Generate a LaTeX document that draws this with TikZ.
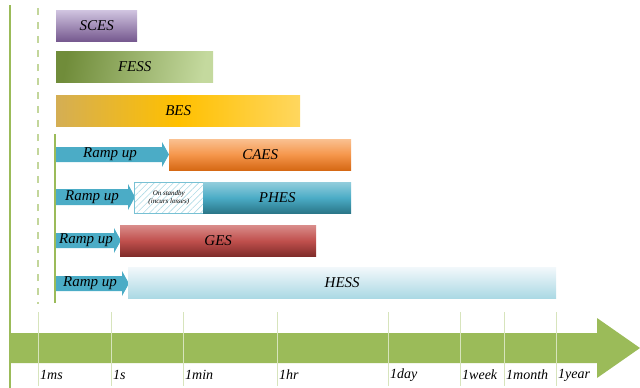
\documentclass[tikz,border=0pt]{standalone}
\usepackage{fontspec}
\setmainfont{Liberation Serif}
\usetikzlibrary{patterns.meta}
\definecolor{axisgreen}{HTML}{9BBB59}
\definecolor{paleline}{HTML}{C3D69B}
\definecolor{tickline}{HTML}{D7E4BC}
\definecolor{rampblue}{HTML}{4BACC6}
\definecolor{scestop}{RGB}{208,196,224}
\definecolor{scesbot}{RGB}{118,89,143}
\definecolor{fessleft}{RGB}{112,140,58}
\definecolor{fessright}{RGB}{196,217,158}
\definecolor{besleft}{RGB}{212,174,84}
\definecolor{besmid}{RGB}{255,192,0}
\definecolor{besright}{RGB}{255,215,95}
\definecolor{caestop}{RGB}{250,192,144}
\definecolor{caesmid}{RGB}{245,150,75}
\definecolor{caesbot}{RGB}{214,104,20}
\definecolor{phestop}{RGB}{146,205,220}
\definecolor{phesbot}{RGB}{42,118,136}
\definecolor{gestop}{RGB}{217,140,138}
\definecolor{gesmid}{RGB}{192,80,77}
\definecolor{gesbot}{RGB}{128,44,42}
\definecolor{hesstop}{RGB}{242,248,251}
\definecolor{hessbot}{RGB}{171,217,228}
\begin{document}
\begin{tikzpicture}[x=1pt,y=-1pt,
  bar/.style={anchor=north west, inner sep=0pt, minimum height=31pt,
    font=\fontsize{15}{15}\selectfont\itshape, text=black},
  ramp/.style={fill=rampblue},
  ramplabel/.style={inner sep=0pt, font=\fontsize{15}{15}\selectfont\itshape},
  ticklabel/.style={anchor=west, inner sep=0pt, font=\fontsize{14}{14}\selectfont\itshape},
  tick/.style={draw=tickline, line width=0.8pt}]
\useasboundingbox (0,0) rectangle (640,388);

% guide lines
\draw[axisgreen, line width=1.5pt] (10,5) -- (10,388);
\draw[paleline, line width=1.5pt, dash pattern=on 7pt off 7pt] (38,8) -- (38,304);
\draw[axisgreen, line width=1.5pt] (55,134) -- (55,303);

% fast-response storage
\node[bar, minimum width=81pt, top color=scestop, bottom color=scesbot]
  (sces) at (56,10) {SCES};
\node[bar, minimum width=157pt, left color=fessleft, right color=fessright, shading angle=80]
  (fess) at (56,51) {FESS};
\node[bar, minimum width=244pt, left color=besleft, right color=besright, middle color=besmid]
  (bes) at (56,95) {BES};

% CAES
\fill[ramp] (56,147) -- (162,147) -- (162,142) -- (169,154.5) -- (162,167) -- (162,162) -- (56,162) -- cycle;
\node[ramplabel] (rcaes) at (110,154.5) {Ramp up};
\node[bar, minimum width=182pt, top color=caestop, bottom color=caesbot, middle color=caesmid]
  (caes) at (169,139) {CAES};

% PHES
\fill[ramp] (56,189) -- (128,189) -- (128,184) -- (135,197) -- (128,210) -- (128,205) -- (56,205) -- cycle;
\node[ramplabel] (rphes) at (92,197) {Ramp up};
\node[anchor=north west, inner sep=0pt, minimum width=69pt, minimum height=31pt,
      draw=rampblue!75, line width=1pt,
      pattern={Lines[angle=45, distance=4.5pt, line width=0.6pt]}, pattern color=rampblue!45,
      align=center, font=\fontsize{7}{8}\selectfont\itshape]
  (standby) at (134,182) {On standby\\(incurs losses)};
\node[bar, minimum width=148pt, top color=phestop, bottom color=phesbot, middle color=rampblue]
  (phes) at (203,182) {PHES};

% GES
\fill[ramp] (56,233) -- (114,233) -- (114,228) -- (121,240.5) -- (114,253) -- (114,248) -- (56,248) -- cycle;
\node[ramplabel] (rges) at (86,240.5) {Ramp up};
\node[bar, minimum width=196pt, top color=gestop, bottom color=gesbot, middle color=gesmid]
  (ges) at (120,225) {GES};

% HESS
\fill[ramp] (56,276) -- (122,276) -- (122,271) -- (129,283.5) -- (122,296) -- (122,291) -- (56,291) -- cycle;
\node[ramplabel] (rhess) at (90,283.5) {Ramp up};
\node[bar, minimum width=428pt, top color=hesstop, bottom color=hessbot]
  (hess) at (128,267) {HESS};

% time axis
\fill[axisgreen] (10,333) -- (597,333) -- (597,318) -- (640,348) -- (597,378) -- (597,363) -- (10,363) -- cycle;
\foreach \x/\lab/\nm in {38/1ms/ms, 111/1s/s, 183/1min/min, 277/1hr/hr, 388/1day/day,
                          460/1week/week, 504/1month/month, 556/1year/year}{
  \draw[tick] (\x,312) -- (\x,386);
  \node[ticklabel] (t\nm) at (\x+2,375) {\lab};
}
\end{tikzpicture}
\end{document}
